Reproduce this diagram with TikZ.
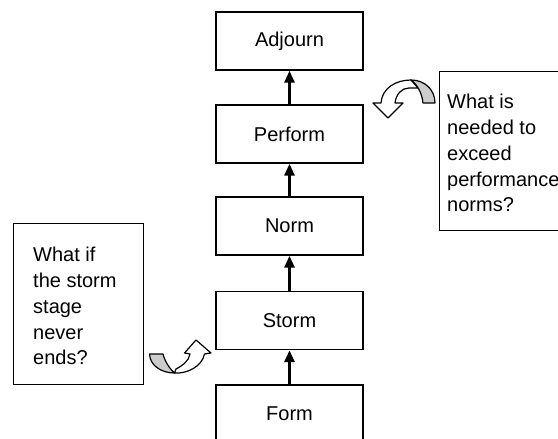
\documentclass[tikz,border=0pt]{standalone}
\usepackage{fontspec}
\setmainfont{Liberation Sans}
\usetikzlibrary{arrows.meta}
\begin{document}
\begin{tikzpicture}[x=1pt,y=-1pt,
  stage/.style={draw, line width=1.4pt, minimum width=147pt, minimum height=58pt, inner sep=0pt, font=\fontsize{20}{24}\selectfont},
  qbox/.style={draw, line width=1.4pt, inner sep=0pt, anchor=north west},
  qtext/.style={anchor=north west, inner sep=0pt, align=left, font=\fontsize{20}{25.8}\selectfont},
  flow/.style={line width=2.8pt, -{Triangle[width=10pt,length=12pt]}},
  band/.style={fill=white, draw, line width=1.2pt, line join=round},
  twist/.style={fill=black!20, draw, line width=1.2pt, line join=round}]
\useasboundingbox (0,0) rectangle (558,439);
\clip (0,0) rectangle (558,439);
% stages
\node[stage] (adjourn) at (289.5,41) {Adjourn};
\node[stage] (perform) at (289.5,134) {Perform};
\node[stage] (norm) at (289.5,226) {Norm};
\node[stage] (storm) at (289.5,320.5) {Storm};
\node[stage] (form) at (289.5,414) {Form};
\draw[flow] (form) -- (storm);
\draw[flow] (storm) -- (norm);
\draw[flow] (norm) -- (perform);
\draw[flow] (perform) -- (adjourn);
% question boxes
\node[qbox, minimum width=130pt, minimum height=161pt] (qleft) at (13,223) {};
\node[qbox, minimum width=140pt, minimum height=159pt] (qright) at (439,71) {};
\node[qtext] (tleft) at ([xshift=20pt,yshift=-24pt]qleft.north west) {What if\\the storm\\stage\\never\\ends?};
\node[qtext] (tright) at ([xshift=8pt,yshift=-23pt]qright.north west) {What is\\needed to\\exceed\\performance\\norms?};
% top curved arrow (near Perform)
\draw[band] (373,103) -- (388,118) -- (403,103) -- (395,103)
  .. controls (396,94) and (402,88) .. (409,88)
  .. controls (413,88) and (416,88) .. (418,88)
  -- (411,80)
  .. controls (396,80) and (382,88) .. (381,103) -- cycle;
\draw[twist] (411,80) .. controls (425,80) and (435,90) .. (435,103)
  -- (423,103) .. controls (422,94) and (418,85) .. (411,80) -- cycle;
% bottom curved arrow (near Storm)
\draw[band] (190,354) -- (184.5,353) -- (196,340) -- (211,353) -- (204.5,354)
  .. controls (202,367) and (186,374) .. (174.5,373)
  -- (176,369)
  .. controls (182,366) and (189,361) .. (190,354) -- cycle;
\draw[twist] (149.5,354) -- (163,354) .. controls (165,362) and (170,369) .. (174.5,373)
  .. controls (162,373) and (150,366) .. (149.5,354) -- cycle;
\end{tikzpicture}
\end{document}
